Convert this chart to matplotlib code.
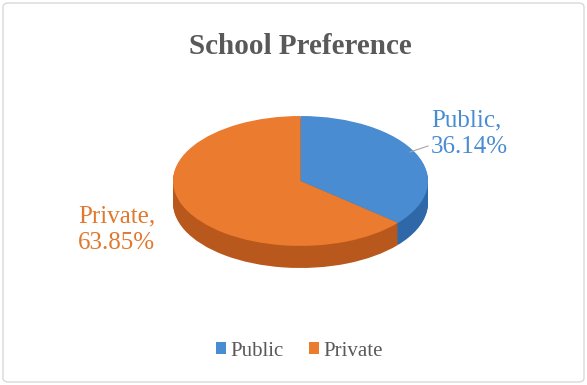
import matplotlib
matplotlib.use("Agg")
import matplotlib.pyplot as plt
from matplotlib.patches import Rectangle, FancyBboxPatch

categories = ["Public", "Private"]
values = [36.14, 63.85]
label_texts = ["Public,\n36.14%", "Private,\n63.85%"]
top_colors = ["#4A8CD2", "#EB7B2E"]
side_colors = ["#2E68A8", "#B9581C"]

W, H = 587, 385
fig = plt.figure(figsize=(W / 100, H / 100), dpi=100)
fig.patch.set_facecolor("white")
fig.patches.append(FancyBboxPatch((3 / W, 3 / H), 1 - 6 / W, 1 - 6 / H,
                                  boxstyle="round,pad=0,rounding_size=0.01",
                                  transform=fig.transFigure, fill=False,
                                  edgecolor="#D9D9D9", linewidth=1))

# axes mapped so that 1 data unit = 127 px horizontally, 65 px vertically
x0, x1 = 173, 428
ytop, ybot = 116, 268
thick = 0.34
ax = fig.add_axes([x0 / W, (H - ybot) / H, (x1 - x0) / W, (ybot - ytop) / H])

n = 20
for i in range(n, 0, -1):
    dy = thick * i / n
    w, _ = ax.pie(values, startangle=90, counterclock=False, colors=side_colors,
                  center=(0, -dy), radius=1, frame=True,
                  wedgeprops=dict(linewidth=0))
    for p in w:
        p.set_clip_on(False)
w, _ = ax.pie(values, startangle=90, counterclock=False, colors=top_colors,
              center=(0, 0), radius=1, frame=True, wedgeprops=dict(linewidth=0))
for p in w:
    p.set_clip_on(False)
ax.set_aspect("auto")
ax.set_xlim(-1, 1)
ax.set_ylim(-1 - thick, 1)
ax.axis("off")

serif = ["Liberation Serif", "DejaVu Serif"]
fig.text(0.512, 1 - 46 / H, "School Preference", ha="center", va="center",
         fontsize=21, fontweight="bold", color="#595959", family=serif)

fig.text(431 / W, 1 - 134 / H, label_texts[0], ha="left", va="center",
         fontsize=18, color="#4A8CD2", family=serif, linespacing=1.25)
fig.text(78 / W, 1 - 230 / H, label_texts[1], ha="left", va="center",
         fontsize=18, color="#E0782E", family=serif, linespacing=1.25)
fig.add_artist(plt.Line2D([410 / W, 428 / W], [1 - 152 / H, 1 - 146 / H],
                          color="#A6A6A6", linewidth=0.8))

handles = [Rectangle((0, 0), 1, 1, facecolor=c) for c in top_colors]
fig.legend(handles, categories, loc="center", bbox_to_anchor=(0.51, 1 - 351 / H),
           ncol=2, frameon=False, handlelength=0.5, handleheight=0.5,
           handletextpad=0.2, columnspacing=1.2,
           prop=dict(family=serif, size=15), labelcolor="#595959")

fig.savefig("out.png", dpi=100)
